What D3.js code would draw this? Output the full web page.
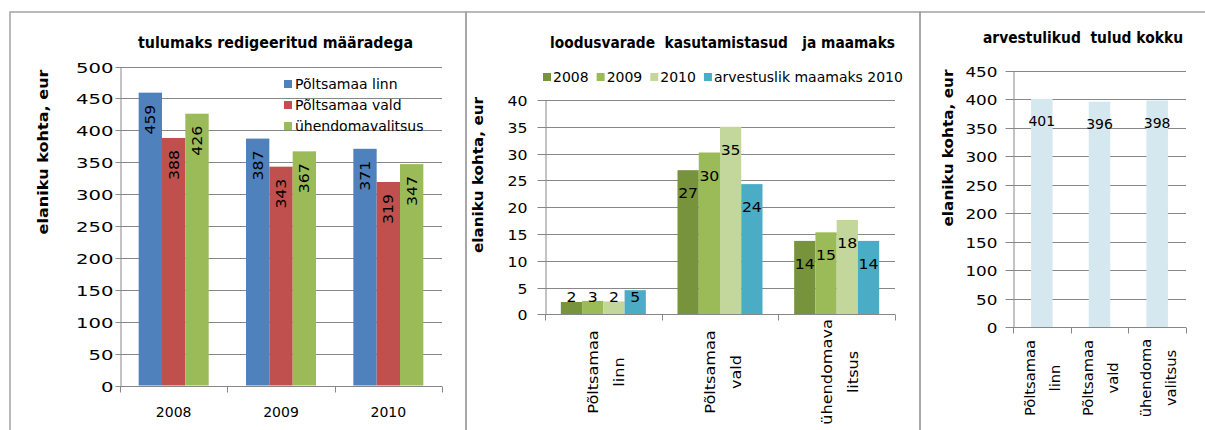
<!DOCTYPE html>
<html>
<head>
<meta charset="utf-8">
<script src="https://cdn.jsdelivr.net/npm/d3@7"></script>
<style>
body { margin: 0; background: #fff; }
svg text { font-family: "DejaVu Sans", Verdana, sans-serif; fill: #000; white-space: pre; }
</style>
</head>
<body>
<svg width="1205" height="430"></svg>
<script>
// ---- data ----
// panel 1: tulumaks
const years = ["2008", "2009", "2010"];
const p1Series = ["Põltsamaa linn", "Põltsamaa vald", "ühendomavalitsus"];
const p1Linn = [459, 387, 371];
const p1Vald = [388, 343, 319];
const p1Uhend = [426, 367, 347];
const p1Ticks = [0, 50, 100, 150, 200, 250, 300, 350, 400, 450, 500];

// panel 2: loodusvarade kasutamistasud ja maamaks
const p2Cats = [["Põltsamaa", "linn"], ["Põltsamaa", "vald"], ["ühendomava", "litsus"]];
const p2Series = ["2008", "2009", "2010", "arvestuslik maamaks 2010"];
const p2v2008 = [2.3, 26.9, 13.7];
const p2v2009 = [2.5, 30.2, 15.3];
const p2v2010 = [2.4, 35, 17.6];
const p2Arv = [4.5, 24.3, 13.7];
const p2Ticks = [0, 5, 10, 15, 20, 25, 30, 35, 40];

// panel 3: arvestulikud tulud kokku
const p3Cats = [["Põltsamaa", "linn"], ["Põltsamaa", "vald"], ["ühendoma", "valitsus"]];
const p3Values = [401, 396, 398];
const p3Ticks = [0, 50, 100, 150, 200, 250, 300, 350, 400, 450];

const svg = d3.select("svg");
const grey = "#878787";
const crisp = v => Math.round(v) + 0.5;

// stretch text along its direction (the source picture is widened)
function stretch(sel, k) {
  sel.each(function () {
    const L = this.getComputedTextLength();
    this.setAttribute("textLength", L * k);
    this.setAttribute("lengthAdjust", "spacingAndGlyphs");
  });
}
function fit(sel, w) {
  sel.attr("textLength", w).attr("lengthAdjust", "spacingAndGlyphs");
}

// frames
const frames = [[10, 466], [466, 920], [920, 1220]];
svg.selectAll("rect.frame")
  .data(frames)
  .enter()
  .append("rect")
  .attr("class", "frame")
  .attr("x", d => d[0]).attr("y", 12)
  .attr("width", d => d[1] - d[0]).attr("height", 440)
  .attr("fill", "none").attr("stroke", "#a3a3a3").attr("stroke-width", 1.5);

function yAxis(y, ticks, x0, x1, size, pad, k) {
  svg.append("g").selectAll("line")
    .data(ticks.slice(1))
    .enter()
    .append("line")
    .attr("x1", x0).attr("x2", x1)
    .attr("y1", d => crisp(y(d))).attr("y2", d => crisp(y(d)))
    .attr("stroke", grey);
  const g = svg.append("g")
    .attr("transform", `translate(${crisp(x0)},0)`)
    .call(d3.axisLeft(y).tickValues(ticks).tickSize(size).tickSizeOuter(0).tickPadding(pad));
  g.attr("font-family", null).attr("font-size", 14);
  g.select("path.domain").attr("stroke", grey);
  g.selectAll(".tick").attr("transform", d => `translate(0,${crisp(y(d))})`);
  g.selectAll(".tick line").attr("stroke", grey);
  g.selectAll(".tick text").attr("dy", "0.36em").call(stretch, k);
}

function xBase(x, y0, tickLen) {
  const yy = crisp(y0);
  const r = x.range();
  svg.append("line")
    .attr("x1", r[0]).attr("x2", r[1]).attr("y1", yy).attr("y2", yy)
    .attr("stroke", grey);
  const bounds = x.domain().map(d => x(d)).concat([r[1]]);
  svg.append("g").selectAll("line")
    .data(bounds)
    .enter()
    .append("line")
    .attr("x1", d => crisp(d)).attr("x2", d => crisp(d))
    .attr("y1", yy).attr("y2", yy + tickLen)
    .attr("stroke", grey);
}

function title(txt, cx, by, w) {
  svg.append("text")
    .attr("x", cx).attr("y", by)
    .attr("text-anchor", "middle")
    .attr("font-size", 15).attr("font-weight", "bold")
    .text(txt)
    .call(fit, w);
}

function yLabel(bx, cy, w) {
  svg.append("text")
    .attr("transform", `translate(${bx},${cy}) rotate(-90)`)
    .attr("text-anchor", "middle")
    .attr("font-size", 14).attr("font-weight", "bold")
    .text("elaniku kohta, eur")
    .call(fit, w);
}

// ================= panel 1 =================
const p1Rows = years.map((yr, i) => ({ key: yr, values: [p1Linn[i], p1Vald[i], p1Uhend[i]] }));
const p1Colors = ["#4f81bd", "#c0504d", "#9bbb59"];

const x1 = d3.scaleBand().domain(years).range([120, 442]);
const x1in = d3.scaleBand().domain(d3.range(3)).range([0, x1.bandwidth()]).paddingOuter(0.8);
const y1 = d3.scaleLinear().domain([0, 500]).range([385.5, 66.5]);

yAxis(y1, p1Ticks, 120, 442, 5, 2, 1.4);

const g1 = svg.append("g").selectAll("g")
  .data(p1Rows)
  .enter()
  .append("g")
  .attr("transform", d => `translate(${x1(d.key)},0)`);

g1.selectAll("rect")
  .data(d => d.values)
  .enter()
  .append("rect")
  .attr("x", (d, i) => x1in(i))
  .attr("width", x1in.bandwidth())
  .attr("y", d => y1(d))
  .attr("height", d => y1(0) - y1(d))
  .attr("fill", (d, i) => p1Colors[i]);

g1.selectAll("text")
  .data(d => d.values)
  .enter()
  .append("text")
  .each(function (d, i) {
    const cx = x1in(i) + x1in.bandwidth() / 2;
    d3.select(this).attr("transform", `translate(${cx},${y1(d) + 12}) rotate(-90)`);
  })
  .attr("text-anchor", "end")
  .attr("dy", "0.36em")
  .attr("font-size", 14)
  .attr("fill", "#151515")
  .text(d => d)
  .call(stretch, 1.12);

xBase(x1, y1(0), 6);

svg.append("g").selectAll("text")
  .data(years)
  .enter()
  .append("text")
  .attr("x", d => x1(d) + x1.bandwidth() / 2)
  .attr("y", 417)
  .attr("text-anchor", "middle")
  .attr("font-size", 14)
  .text(d => d);

// legend (drawn over the grid, no box)
const leg1 = svg.append("g").selectAll("g")
  .data(p1Series)
  .enter()
  .append("g")
  .attr("transform", (d, i) => `translate(284,${84 + i * 21})`);
leg1.append("rect")
  .attr("x", 0).attr("y", -4).attr("width", 8).attr("height", 8)
  .attr("fill", (d, i) => p1Colors[i]);
leg1.append("text")
  .attr("x", 11).attr("dy", "0.36em")
  .attr("font-size", 14)
  .text(d => d);

title("tulumaks redigeeritud määradega", 275.5, 48, 275);
yLabel(47.5, 152, 165);

// ================= panel 2 =================
const p2Colors = ["#77933c", "#9bbb59", "#c3d69b", "#4bacc6"];
const p2Rows = p2Cats.map((c, i) => ({ key: c.join(" "), lines: c, values: [p2v2008[i], p2v2009[i], p2v2010[i], p2Arv[i]] }));

const x2 = d3.scaleBand().domain(p2Rows.map(d => d.key)).range([545, 895]);
const x2in = d3.scaleBand().domain(d3.range(4)).range([0, x2.bandwidth()]).paddingOuter(0.745);
const y2 = d3.scaleLinear().domain([0, 40]).range([314.3, 100]);

yAxis(y2, p2Ticks, 545, 895, 8, 10, 1.12);

const g2 = svg.append("g").selectAll("g")
  .data(p2Rows)
  .enter()
  .append("g")
  .attr("transform", d => `translate(${x2(d.key)},0)`);

g2.selectAll("rect")
  .data(d => d.values)
  .enter()
  .append("rect")
  .attr("x", (d, i) => x2in(i))
  .attr("width", x2in.bandwidth())
  .attr("y", d => y2(d))
  .attr("height", d => y2(0) - y2(d))
  .attr("fill", (d, i) => p2Colors[i]);

g2.selectAll("text")
  .data(d => d.values)
  .enter()
  .append("text")
  .attr("x", (d, i) => x2in(i) + x2in.bandwidth() / 2)
  .attr("y", d => Math.min(y2(d) + 28, y2(0) - 12))
  .attr("text-anchor", "middle")
  .attr("font-size", 14)
  .text(d => Math.round(d))
  .call(stretch, 1.12);

xBase(x2, y2(0), 6);

const xl2 = svg.append("g").selectAll("g")
  .data(p2Rows)
  .enter()
  .append("g")
  .attr("transform", d => `translate(${x2(d.key) + x2.bandwidth() / 2},372) rotate(-90)`);
xl2.selectAll("text")
  .data(d => d.lines)
  .enter()
  .append("text")
  .attr("y", (d, i) => i === 0 ? -5 : 21)
  .attr("text-anchor", "middle")
  .attr("font-size", 14)
  .text(d => d)
  .call(stretch, 1.15);

// legend on one row
const leg2 = svg.append("g").attr("font-size", 14);
let lx = 543;
p2Series.forEach((s, i) => {
  leg2.append("rect")
    .attr("x", lx).attr("y", 73).attr("width", 8).attr("height", 8)
    .attr("fill", p2Colors[i]);
  const t = leg2.append("text")
    .attr("x", lx + 10).attr("y", 77).attr("dy", "0.36em")
    .text(s);
  lx += 10 + t.node().getComputedTextLength() + 8;
});

title("loodusvarade  kasutamistasud   ja maamaks", 722.5, 48, 345);
yLabel(482.5, 175, 156);

// ================= panel 3 =================
const p3Rows = p3Cats.map((c, i) => ({ key: c.join(" "), lines: c, value: p3Values[i] }));

const x3 = d3.scaleBand().domain(p3Rows.map(d => d.key)).range([1013, 1186]);
const x3in = d3.scaleBand().domain([0]).range([0, x3.bandwidth()]).paddingOuter(0.84);
const y3 = d3.scaleLinear().domain([0, 450]).range([327, 71]);

yAxis(y3, p3Ticks, 1013, 1186, 8, 8, 1.2);

svg.append("g").selectAll("rect")
  .data(p3Rows)
  .enter()
  .append("rect")
  .attr("x", d => x3(d.key) + x3in(0))
  .attr("width", x3in.bandwidth())
  .attr("y", d => y3(d.value))
  .attr("height", d => y3(0) - y3(d.value))
  .attr("fill", "#d5e8f0");

svg.append("g").selectAll("text")
  .data(p3Rows)
  .enter()
  .append("text")
  .attr("x", d => x3(d.key) + x3.bandwidth() / 2)
  .attr("y", d => y3(d.value) + 27)
  .attr("text-anchor", "middle")
  .attr("font-size", 14)
  .text(d => d.value);

xBase(x3, y3(0), 6);

const xl3 = svg.append("g").selectAll("g")
  .data(p3Rows)
  .enter()
  .append("g")
  .attr("transform", d => `translate(${x3(d.key) + x3.bandwidth() / 2},378) rotate(-90)`);
xl3.selectAll("text")
  .data(d => d.lines)
  .enter()
  .append("text")
  .attr("y", (d, i) => i === 0 ? -6.5 : 18.5)
  .attr("text-anchor", "middle")
  .attr("font-size", 14)
  .text(d => d)
  .call(stretch, 1.05);

title("arvestulikud  tulud kokku", 1083, 43, 200);
yLabel(952.5, 148, 157);
</script>
</body>
</html>
